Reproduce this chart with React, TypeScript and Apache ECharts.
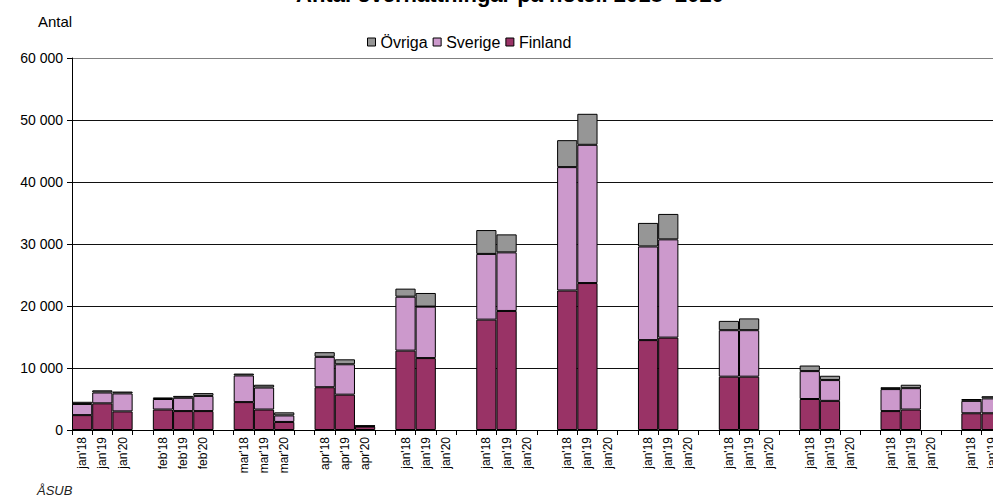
import React, { useEffect, useRef } from "react";
import * as echarts from "echarts";

const categories: string[] = [
  "jan'18", "jan'19", "jan'20", "",
  "feb'18", "feb'19", "feb'20", "",
  "mar'18", "mar'19", "mar'20", "",
  "apr'18", "apr'19", "apr'20", "",
  "jan'18", "jan'19", "jan'20", "",
  "jan'18", "jan'19", "jan'20", "",
  "jan'18", "jan'19", "jan'20", "",
  "jan'18", "jan'19", "jan'20", "",
  "jan'18", "jan'19", "jan'20", "",
  "jan'18", "jan'19", "jan'20", "",
  "jan'18", "jan'19", "jan'20", "",
  "jan'18", "jan'19", "jan'20",
];

const finland: (number | null)[] = [
  2400, 4300, 3000, null,
  3300, 3050, 3050, null,
  4500, 3300, 1300, null,
  6900, 5700, 550, null,
  12800, 11600, null, null,
  17800, 19200, null, null,
  22500, 23700, null, null,
  14500, 14900, null, null,
  8600, 8600, null, null,
  5000, 4700, null, null,
  3050, 3300, null, null,
  2700, 2700, null,
];

const sverige: (number | null)[] = [
  1800, 1750, 2900, null,
  1700, 2150, 2450, null,
  4300, 3550, 1050, null,
  4900, 4900, 100, null,
  8700, 8300, null, null,
  10600, 9450, null, null,
  19900, 22300, null, null,
  15100, 15850, null, null,
  7500, 7500, null, null,
  4500, 3350, null, null,
  3550, 3450, null, null,
  2000, 2400, null,
];

const ovriga: (number | null)[] = [
  350, 350, 300, null,
  250, 300, 450, null,
  300, 450, 500, null,
  750, 800, 50, null,
  1300, 2200, null, null,
  3850, 2900, null, null,
  4350, 5000, null, null,
  3800, 4100, null, null,
  1500, 1900, null, null,
  900, 700, null, null,
  300, 550, null, null,
  300, 350, null,
];

const yTicks = { min: 0, max: 60000, interval: 10000 };
const legendOrder = ["Övriga", "Sverige", "Finland"];
const titleText = "Antal övernattningar på hotell 2018–2020";
const yAxisName = "Antal";
const sourceText = "ÅSUB";

const FONT = "'Liberation Sans', Arial, sans-serif";

function fmt(v: number): string {
  return String(v).replace(/\B(?=(\d{3})+(?!\d))/g, " ");
}

export default function App() {
  const ref = useRef<HTMLDivElement>(null);
  useEffect(() => {
    if (!ref.current) return;
    const chart = echarts.init(ref.current, null, { renderer: "svg" });
    const barStyle = (color: string) => ({
      color,
      borderColor: "#000",
      borderWidth: 1,
    });
    chart.setOption({
      animation: false,
      textStyle: { fontFamily: FONT },
      graphic: [
        {
          type: "text",
          x: 510,
          y: -5.5,
          style: {
            text: titleText,
            fontFamily: FONT,
            fontSize: 22,
            fontWeight: "bold",
            fill: "#000",
            textAlign: "center",
            textVerticalAlign: "middle",
          },
        },
        {
          type: "text",
          x: 38,
          y: 21,
          style: {
            text: yAxisName,
            fontFamily: FONT,
            fontSize: 15,
            fill: "#000",
            textVerticalAlign: "middle",
          },
        },
        {
          type: "text",
          x: 37,
          y: 490,
          style: {
            text: sourceText,
            fontFamily: FONT,
            fontSize: 13,
            fontStyle: "italic",
            fill: "#222",
            textVerticalAlign: "middle",
          },
        },
      ],
      legend: {
        data: legendOrder,
        left: 362,
        top: 29,
        itemWidth: 8,
        itemHeight: 8,
        itemGap: 5,
        icon: "rect",
        textStyle: { fontFamily: FONT, fontSize: 16, color: "#000" },
        itemStyle: { borderColor: "#000", borderWidth: 1 },
      },
      grid: { left: 72, right: 0, top: 58, bottom: 74 },
      xAxis: {
        type: "category",
        data: categories,
        boundaryGap: true,
        axisLine: { lineStyle: { color: "#000", width: 1 } },
        axisTick: { show: true, interval: 0, length: 5, lineStyle: { color: "#000" } },
        axisLabel: {
          interval: 0,
          rotate: 90,
          margin: 7,
          fontFamily: FONT,
          fontSize: 12,
          color: "#000",
        },
      },
      yAxis: {
        type: "value",
        min: yTicks.min,
        max: yTicks.max,
        interval: yTicks.interval,
        axisLine: { show: true, lineStyle: { color: "#000", width: 1 } },
        axisTick: { show: true, length: 5, lineStyle: { color: "#000" } },
        axisLabel: {
          formatter: (v: number) => fmt(v),
          fontFamily: FONT,
          fontSize: 14,
          color: "#000",
          margin: 9,
        },
        splitLine: {
          show: true,
          lineStyle: {
            color: ["#000", "#111", "#111", "#111", "#111", "#111", "#808080"],
            width: 1,
          },
        },
      },
      series: [
        {
          name: "Finland",
          type: "bar",
          stack: "total",
          data: finland,
          barCategoryGap: "0%",
          itemStyle: barStyle("#993366"),
        },
        {
          name: "Sverige",
          type: "bar",
          stack: "total",
          data: sverige,
          barCategoryGap: "0%",
          itemStyle: barStyle("#CC99CC"),
        },
        {
          name: "Övriga",
          type: "bar",
          stack: "total",
          data: ovriga,
          barCategoryGap: "0%",
          itemStyle: barStyle("#969696"),
        },
      ],
    });
    return () => chart.dispose();
  }, []);
  return (
    <div
      style={{
        position: "fixed",
        left: 0,
        top: 0,
        width: 993,
        height: 504,
        overflow: "hidden",
        background: "#fff",
      }}
    >
      <div ref={ref} style={{ width: 1022, height: 504 }} />
    </div>
  );
}
